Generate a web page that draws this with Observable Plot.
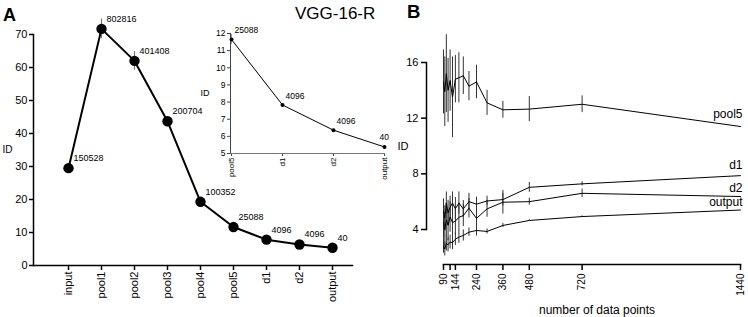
<!DOCTYPE html>
<html><head><meta charset="utf-8">
<script src="https://cdn.jsdelivr.net/npm/d3@7"></script>
<script src="https://cdn.jsdelivr.net/npm/@observablehq/plot@0.6"></script>
<style>
html,body{margin:0;padding:0;background:#fff;}
#wrap{position:relative;width:748px;height:317px;overflow:hidden;font-family:"Liberation Sans",Arial,sans-serif;}
#wrap svg{position:absolute;left:0;top:0;overflow:visible;}
.lbl{position:absolute;line-height:1;white-space:nowrap;color:#000;}
</style></head><body>
<div id="wrap">
<span class="lbl" style="left:3px;top:5.5px;font-size:18px;font-weight:bold">A</span>
<span class="lbl" style="left:407px;top:2.6px;font-size:18.5px;font-weight:bold">B</span>
<span class="lbl" style="left:295px;top:4.9px;font-size:17px">VGG-16-R</span>
</div>
<script>
// ---- Panel A data ----
const layersA = ["input","pool1","pool2","pool3","pool4","pool5","d1","d2","output"];
const idA = [29.5, 71.7, 62.0, 43.7, 19.3, 11.65, 7.83, 6.36, 5.38];
const errA = [0.8, 3.0, 2.8, 0.8, 0.8, 0.3, 0.05, 0.05, 0.05];
const unitsA = ["150528","802816","401408","200704","100352","25088","4096","4096","40"];
const ticksA = [0,10,20,30,40,50,60,70];
const insetLayers = ["pool5","d1","d2","output"];
const ticksInset = [5,6,7,8,9,10,11,12];

// ---- Panel B data ----
const nPointsB = [1440,720,480,360,288,240,205.7,180,160,144,130.9,120,110.8,102.9,96,90];
const seriesB = ["pool5","d1","d2","output"];
const pool5ID  = [11.4,13.0,12.65,12.6,13.1,14.6,14.3,15.05,14.9,14.8,13.5,14.7,14.0,15.2,13.9,14.6];
const pool5Err = [0,0.6,0.9,0.6,0.9,1.2,1.05,1.35,1.8,1.7,2.9,2.2,2.3,2.8,2.5,2.3];
const d1ID     = [7.87,7.28,7.03,6.15,6.05,5.82,6.0,5.48,5.9,5.5,5.9,5.6,5.2,5.9,4.8,5.3];
const d1Err    = [0,0.15,0.35,0.45,0.35,0.5,0.6,0.6,0.8,0.8,0.8,0.8,0.9,0.8,0.9,0.9];
const d2ID     = [6.37,6.6,6.0,5.96,5.48,4.8,5.53,5.0,4.88,4.6,4.5,4.9,4.3,4.7,4.0,4.5];
const d2Err    = [0,0.3,0.25,0.85,0.6,1.1,0.7,0.8,1.0,1.0,1.1,1.1,1.1,1.2,1.2,1.2];
const outputID = [5.4,4.93,4.65,4.29,3.86,3.93,3.81,3.57,3.45,3.3,3.05,3.1,2.9,3.0,2.6,2.8];
const outputErr= [0,0.05,0.05,0.15,0.18,0.4,0.3,0.4,0.45,0.45,0.5,0.5,0.5,0.55,0.5,0.5];
const ticksB = [90,120,144,240,360,480,720,1440];
const tickLabelsB = ["90","","144","240","360","480","720","1440"];
const ticksBY = [4,8,12,16];

// ---- build tables ----
const rowsA = layersA.map((l,i)=>({layer:l, id:idA[i], lo:idA[i]-errA[i], hi:idA[i]+errA[i], units:unitsA[i]}));
const rowsInset = rowsA.filter(d=>insetLayers.includes(d.layer));
const valsB = {pool5:pool5ID, d1:d1ID, d2:d2ID, output:outputID};
const errsB = {pool5:pool5Err, d1:d1Err, d2:d2Err, output:outputErr};
const rowsB = [];
for (const s of seriesB) nPointsB.forEach((n,i)=>rowsB.push({series:s, n, id:valsB[s][i], lo:valsB[s][i]-errsB[s][i], hi:valsB[s][i]+errsB[s][i], err:errsB[s][i]}));
const endB = rowsB.filter(d=>d.n===d3.max(nPointsB));
const labelDyB = {pool5:-12, d1:-10, d2:-8.5, output:-8};

const font = "'Liberation Sans', Arial, sans-serif";
const baseStyle = {fontFamily: font, background: "transparent", overflow: "visible", color: "#000"};
const wrap = document.getElementById("wrap");
const intFmt = d3.format("d");

// Panel A
wrap.appendChild(Plot.plot({
  width: 748, height: 317,
  marginLeft: 33, marginRight: 396, marginTop: 34, marginBottom: 52,
  style: baseStyle,
  x: {type: "point", domain: layersA, range: [50, 350]},
  y: {domain: [0, 70]},
  marks: [
    Plot.axisY({ticks: ticksA, tickFormat: intFmt, tickSize: 4, tickPadding: 2, fontSize: 11, label: null, strokeWidth: 1.5}),
    Plot.axisX({tickSize: 5, tickPadding: 1, tickRotate: -90, fontSize: 11, label: null, strokeWidth: 1.5}),
    Plot.frame({anchor: "left", stroke: "#000", strokeWidth: 1.5}),
    Plot.frame({anchor: "bottom", stroke: "#000", strokeWidth: 1.5}),
    Plot.ruleX(rowsA, {x: "layer", y1: "lo", y2: "hi", stroke: "#777", strokeWidth: 1.2}),
    Plot.line(rowsA, {x: "layer", y: "id", stroke: "#000", strokeWidth: 2}),
    Plot.dot(rowsA, {x: "layer", y: "id", r: 5.2, fill: "#000", stroke: "none"}),
    Plot.text(rowsA, {x: "layer", y: "id", text: "units", dx: 5, dy: -10, textAnchor: "start", fontSize: 9}),
    Plot.text(["ID"], {frameAnchor: "left", dx: -31, textAnchor: "start", fontSize: 10})
  ]
}));

// Inset
wrap.appendChild(Plot.plot({
  width: 748, height: 317,
  marginLeft: 230, marginRight: 364, marginTop: 33, marginBottom: 164,
  style: baseStyle,
  x: {type: "point", domain: insetLayers, padding: 0},
  y: {domain: [5, 12]},
  marks: [
    Plot.axisY({ticks: ticksInset, tickFormat: intFmt, tickSize: 3, tickPadding: 2, fontSize: 8.5, label: null, stroke: "#444"}),
    Plot.axisX({tickSize: 3, tickPadding: 1, tickRotate: -90, fontSize: 8, label: null, stroke: "#444"}),
    Plot.frame({anchor: "left", stroke: "#444", strokeWidth: 1}),
    Plot.frame({anchor: "bottom", stroke: "#777", strokeWidth: 1}),
    Plot.ruleX(rowsInset, {x: "layer", y1: "lo", y2: "hi", stroke: "#999", strokeWidth: 1}),
    Plot.line(rowsInset, {x: "layer", y: "id", stroke: "#000", strokeWidth: 1}),
    Plot.dot(rowsInset, {x: "layer", y: "id", r: 2, fill: "#000", stroke: "none"}),
    Plot.text(rowsInset.filter(d=>d.layer!=="output"), {x: "layer", y: "id", text: "units", dx: 3, dy: -9, textAnchor: "start", fontSize: 8.5}),
    Plot.text(rowsInset.filter(d=>d.layer==="output"), {x: "layer", y: "id", text: "units", dx: -5, dy: -10, textAnchor: "start", fontSize: 8.5}),
    Plot.text(["ID"], {frameAnchor: "left", dx: -30, textAnchor: "start", fontSize: 9})
  ]
}));

// Panel B y axis
wrap.appendChild(Plot.plot({
  width: 748, height: 317,
  marginLeft: 426, marginRight: 300, marginTop: 62, marginBottom: 88,
  style: baseStyle,
  y: {domain: [4, 16]},
  marks: [
    Plot.axisY({ticks: ticksBY, tickFormat: intFmt, tickSize: 5, tickPadding: 3, fontSize: 11, label: null, strokeWidth: 1.5}),
    Plot.frame({anchor: "left", stroke: "#000", strokeWidth: 1.5}),
    Plot.text(["ID"], {frameAnchor: "left", dx: -29, textAnchor: "start", fontSize: 11})
  ]
}));

// Panel B data
wrap.appendChild(Plot.plot({
  width: 748, height: 317,
  marginLeft: 443, marginRight: 8, marginTop: 62, marginBottom: 53,
  style: baseStyle,
  x: {domain: [90, 1440]},
  y: {domain: [4, 16], range: [229, 62], axis: null},
  marks: [
    Plot.axisX({ticks: ticksB, tickFormat: d => tickLabelsB[ticksB.indexOf(d)], tickSize: 6, tickPadding: 3, tickRotate: -90, fontSize: 10, label: null, strokeWidth: 1.5}),
    Plot.frame({anchor: "bottom", stroke: "#000", strokeWidth: 1.5}),
    Plot.ruleX(rowsB.filter(d=>d.err>0), {x: "n", y1: "lo", y2: "hi", stroke: "#333", strokeWidth: 1}),
    Plot.line(rowsB, {x: "n", y: "id", z: "series", stroke: "#000", strokeWidth: 1}),
    ...seriesB.map(s => Plot.text(endB.filter(d=>d.series===s), {x: "n", y: "id", text: "series", dx: 2, dy: labelDyB[s], textAnchor: "end", fontSize: 12})),
    Plot.text(["number of data points"], {frameAnchor: "bottom", lineAnchor: "middle", dy: 46, dx: 5, fontSize: 12})
  ]
}));
</script>
</body></html>
